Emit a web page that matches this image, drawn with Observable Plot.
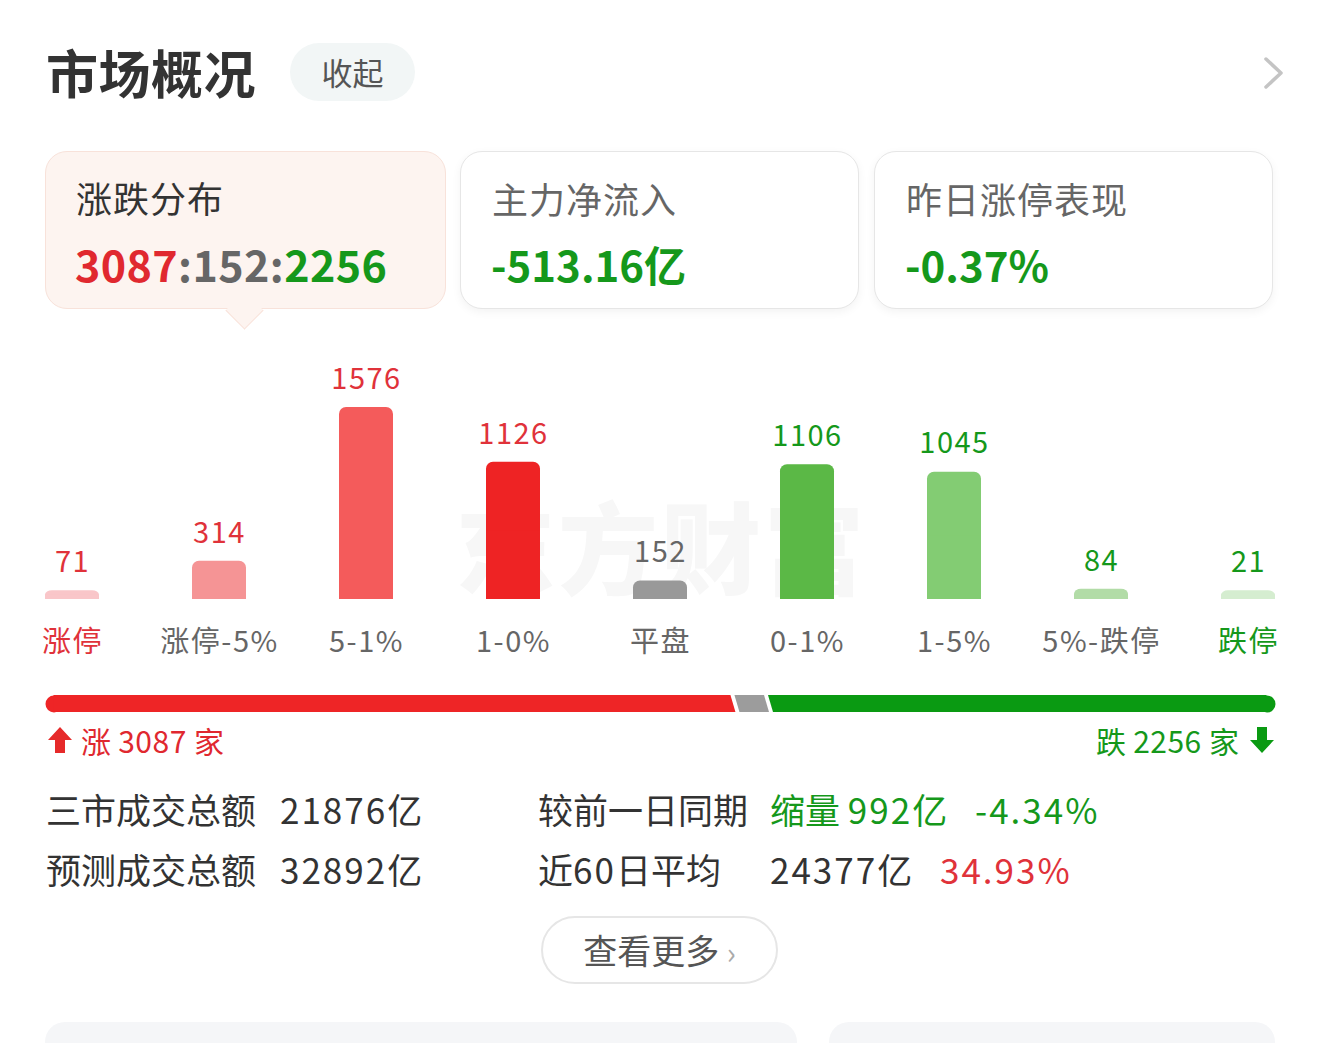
<!DOCTYPE html>
<html><head><meta charset="utf-8">
<script src="https://cdn.jsdelivr.net/npm/d3@7"></script>
<script src="https://cdn.jsdelivr.net/npm/@observablehq/plot@0.6"></script>
<style>
html,body{margin:0;padding:0;background:#fff;}
body{width:1320px;height:1043px;position:relative;overflow:hidden;font-family:"Noto Sans CJK SC","Noto Sans",sans-serif;color:#333;}
.abs{position:absolute;white-space:nowrap;}
.card{position:absolute;top:151px;height:158px;border-radius:22px;box-sizing:border-box;}
.ctitle{position:absolute;left:31px;top:21px;font-size:36px;line-height:50px;letter-spacing:1px;}
.cval{position:absolute;left:30px;top:85px;font-size:42px;line-height:54px;font-weight:700;}
.row{font-size:35px;line-height:44px;}
.num{letter-spacing:2px;}
</style></head>
<body>
<div class="abs" style="left:46px;top:39px;font-size:52px;line-height:66px;font-weight:700;color:#333;letter-spacing:0.5px;">市场概况</div>
<div class="abs" style="left:290px;top:43px;width:125px;height:58px;border-radius:29px;background:#f2f6f6;color:#555;font-size:31px;line-height:58px;text-align:center;">收起</div>
<svg class="abs" style="left:1262px;top:56px" width="24" height="34"><path d="M4 3 L19 17 L4 31" fill="none" stroke="#c4c4c4" stroke-width="3.5" stroke-linecap="round" stroke-linejoin="round"/></svg>

<div class="card" style="left:45px;width:401px;background:#fdf4f0;border:1.5px solid #f8e2da;"></div>
<div class="abs" style="left:231px;top:297px;width:26px;height:26px;background:#fdf4f0;border-right:1.5px solid #f8e2da;border-bottom:1.5px solid #f8e2da;transform:rotate(45deg);"></div>
<div class="card" style="left:45px;width:401px;background:transparent;">
  <div class="ctitle" style="color:#333">涨跌分布</div>
  <div class="cval" style="font-size:43px;letter-spacing:0.4px;"><span style="color:#e0282f">3087</span><span style="color:#666">:152:</span><span style="color:#15981b">2256</span></div>
</div>
<div class="card" style="left:460px;width:399px;background:#fff;border:1.5px solid #e6e6e6;box-shadow:0 3px 10px rgba(0,0,0,0.05);">
  <div class="ctitle" style="color:#666">主力净流入</div>
  <div class="cval" style="color:#15981b">-513.16亿</div>
</div>
<div class="card" style="left:874px;width:399px;background:#fff;border:1.5px solid #e6e6e6;box-shadow:0 3px 10px rgba(0,0,0,0.05);">
  <div class="ctitle" style="color:#666">昨日涨停表现</div>
  <div class="cval" style="color:#15981b">-0.37%</div>
</div>

<div class="abs" style="left:455px;top:487px;font-size:100px;line-height:114px;font-weight:900;color:#f7f7f7;letter-spacing:3px;">东方财富</div>
<div id="chart" class="abs" style="left:0;top:340px;"></div>
<div id="ratio" class="abs" style="left:0;top:695px;"></div>

<div class="abs" style="left:47px;top:720px;font-size:30px;line-height:40px;color:#e0282f;display:flex;align-items:center;">
<svg width="26" height="28" style="margin-right:8px"><path d="M13 1 L25 14 L18 14 L18 27 L8 27 L8 14 L1 14 Z" fill="#e62a2a"/></svg>涨<span style="letter-spacing:0.5px">&nbsp;3087&nbsp;</span>家</div>
<div class="abs" style="right:45px;top:720px;font-size:30px;line-height:40px;color:#15981b;display:flex;align-items:center;">跌<span style="letter-spacing:0.5px">&nbsp;2256&nbsp;</span>家<svg width="26" height="28" style="margin-left:10px"><path d="M13 27 L25 14 L18 14 L18 1 L8 1 L8 14 L1 14 Z" fill="#0a9a12"/></svg></div>

<div class="abs row" style="left:46px;top:787px;color:#333;">三市成交总额</div>
<div class="abs row" style="left:280px;top:787px;color:#333;"><span class="num">21876</span>亿</div>
<div class="abs row" style="left:538px;top:787px;color:#333;">较前一日同期</div>
<div class="abs row" style="left:770px;top:787px;color:#15981b;">缩量 <span class="num">992</span>亿</div>
<div class="abs row" style="left:975px;top:787px;color:#15981b;"><span class="num">-4.34%</span></div>
<div class="abs row" style="left:46px;top:847px;color:#333;">预测成交总额</div>
<div class="abs row" style="left:280px;top:847px;color:#333;"><span class="num">32892</span>亿</div>
<div class="abs row" style="left:538px;top:847px;color:#333;">近<span class="num">60</span>日平均</div>
<div class="abs row" style="left:770px;top:847px;color:#333;"><span class="num">24377</span>亿</div>
<div class="abs row" style="left:940px;top:847px;color:#e0323a;"><span class="num">34.93%</span></div>

<div class="abs" style="left:541px;top:916px;width:237px;height:68px;box-sizing:border-box;border:2px solid #e6e6e6;border-radius:34px;font-size:34px;line-height:64px;color:#555;text-align:center;">查看更多 <span style="color:#aaa;font-size:30px">›</span></div>

<div class="abs" style="left:45px;top:1022px;width:752px;height:40px;border-radius:20px;background:#f5f6f8;"></div>
<div class="abs" style="left:829px;top:1022px;width:446px;height:40px;border-radius:20px;background:#f5f6f8;"></div>

<script>
// ---- data ----
const categories = ["涨停", "涨停-5%", "5-1%", "1-0%", "平盘", "0-1%", "1-5%", "5%-跌停", "跌停"];
const counts = [71, 314, 1576, 1126, 152, 1106, 1045, 84, 21];
const barColors = ["#f9c6c9", "#f59495", "#f45b5b", "#ee2324", "#999999", "#5bb846", "#83cc73", "#b2dca7", "#d5edd0"];
const valueColors = ["#e0323a", "#e0323a", "#e0323a", "#e0323a", "#666666", "#15981b", "#15981b", "#15981b", "#15981b"];
const labelColors = ["#e0323a", "#666666", "#666666", "#666666", "#666666", "#666666", "#666666", "#666666", "#15981b"];
const upCount = 3087, flatCount = 152, downCount = 2256;
const ratioColors = ["#ee2526", "#9c9c9c", "#0a9a12"];

const data = categories.map((c, i) => ({cat: c, value: counts[i], color: barColors[i], vcolor: valueColors[i], lcolor: labelColors[i]}));
const maxV = d3.max(counts);
const minV = maxV * 0.045; // minimum visible bar height
const barTop = d => Math.max(d.value, minV);

const chart = Plot.plot({
  width: 1320, height: 340,
  marginLeft: 45, marginRight: 45, marginTop: 67, marginBottom: 81,
  style: {background: "transparent", fontFamily: "'Noto Sans CJK SC', sans-serif", letterSpacing: "1.5px"},
  x: {domain: categories, paddingInner: 1 - 54 / 147, paddingOuter: 0, axis: null},
  y: {domain: [0, maxV], axis: null},
  color: {type: "identity"},
  marks: [
    Plot.barY(data, {x: "cat", y1: 0, y2: barTop, fill: "color", rx: 7, ry: 7}),
    Plot.barY(data, {x: "cat", y1: 0, y2: d => barTop(d) / 2, fill: "color"}),
    Plot.text(data, {x: "cat", y: barTop, text: d => String(d.value), dy: -28, lineAnchor: "middle", fill: "vcolor", fontSize: 29}),
    Plot.text(data, {x: "cat", y: 0, text: "cat", dy: 43, lineAnchor: "middle", fill: "lcolor", fontSize: 29})
  ]
});
document.getElementById("chart").append(chart);

// ---- ratio bar ----
const total = upCount + flatCount + downCount;
const H = 17, capR = H / 2;
const innerW = 1320 - 2 * (45 + capR);
const u = total / innerW; // data units per pixel
const s = 2.5 * u, g = 2 * u;
const segs = [
  {seg: "up", from: 0, to: upCount, color: ratioColors[0]},
  {seg: "flat", from: upCount, to: upCount + flatCount, color: ratioColors[1]},
  {seg: "down", from: upCount + flatCount, to: total, color: ratioColors[2]}
];
const pts = [];
for (const sg of segs) {
  if (sg.from === 0) pts.push({seg: sg.seg, color: sg.color, x: 0, y1: 0, y2: 1});
  else {
    pts.push({seg: sg.seg, color: sg.color, x: sg.from - s + g, y1: 1, y2: 1});
    pts.push({seg: sg.seg, color: sg.color, x: sg.from + s + g, y1: 0, y2: 1});
  }
  if (sg.to === total) pts.push({seg: sg.seg, color: sg.color, x: total, y1: 0, y2: 1});
  else {
    pts.push({seg: sg.seg, color: sg.color, x: sg.to - s - g, y1: 0, y2: 1});
    pts.push({seg: sg.seg, color: sg.color, x: sg.to + s - g, y1: 0, y2: 0});
  }
}
const caps = [{x: 0, color: ratioColors[0]}, {x: total, color: ratioColors[2]}];
const ratio = Plot.plot({
  width: 1320, height: H,
  marginLeft: 45 + capR, marginRight: 45 + capR, marginTop: 0, marginBottom: 0,
  style: {background: "transparent", overflow: "visible"},
  x: {domain: [0, total], axis: null},
  y: {domain: [0, 1], axis: null},
  color: {type: "identity"},
  marks: [
    Plot.dot(caps, {x: "x", y: 0.5, r: capR, fill: "color"}),
    Plot.areaY(pts, {x: "x", y1: "y1", y2: "y2", z: "seg", fill: "color", curve: "linear"})
  ]
});
document.getElementById("ratio").append(ratio);
</script>
</body></html>
